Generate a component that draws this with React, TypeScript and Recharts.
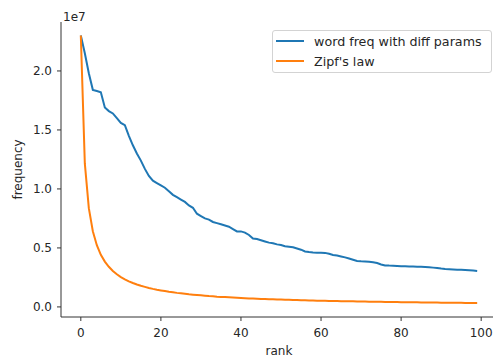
import { LineChart, Line, XAxis, YAxis, Legend, Label } from "recharts";

// rank on the x axis
const ranks = [
  0, 1, 2, 3, 4, 5, 6, 7, 8, 9, 10, 11, 12, 13, 14, 15, 16, 17, 18, 19,
  20, 21, 22, 23, 24, 25, 26, 27, 28, 29, 30, 31, 32, 33, 34, 35, 36, 37, 38, 39,
  40, 41, 42, 43, 44, 45, 46, 47, 48, 49, 50, 51, 52, 53, 54, 55, 56, 57, 58, 59,
  60, 61, 62, 63, 64, 65, 66, 67, 68, 69, 70, 71, 72, 73, 74, 75, 76, 77, 78, 79,
  80, 81, 82, 83, 84, 85, 86, 87, 88, 89, 90, 91, 92, 93, 94, 95, 96, 97, 98, 99,
];

// frequencies in units of 1e7
const wordFreq = [
  2.3, 2.15, 1.98, 1.84, 1.83, 1.82, 1.69, 1.66, 1.64, 1.6,
  1.56, 1.54, 1.45, 1.37, 1.3, 1.24, 1.17, 1.11, 1.07, 1.05,
  1.03, 1.01, 0.98, 0.95, 0.93, 0.91, 0.89, 0.86, 0.84, 0.79,
  0.77, 0.75, 0.74, 0.72, 0.71, 0.7, 0.69, 0.68, 0.66, 0.64,
  0.64, 0.63, 0.61, 0.58, 0.575, 0.565, 0.555, 0.545, 0.54, 0.53,
  0.525, 0.515, 0.51, 0.505, 0.495, 0.485, 0.47, 0.465, 0.462, 0.46,
  0.46, 0.458, 0.45, 0.44, 0.435, 0.428, 0.42, 0.41, 0.4, 0.39,
  0.387, 0.385, 0.382, 0.378, 0.372, 0.36, 0.352, 0.35, 0.349, 0.347,
  0.345, 0.344, 0.343, 0.342, 0.341, 0.34, 0.338, 0.336, 0.333, 0.33,
  0.325, 0.322, 0.32, 0.318, 0.316, 0.314, 0.312, 0.31, 0.308, 0.305,
];

const zipfLaw = [
  2.3, 1.216, 0.837, 0.642, 0.523, 0.442, 0.384, 0.34, 0.305, 0.277,
  0.253, 0.234, 0.217, 0.203, 0.19, 0.179, 0.17, 0.161, 0.153, 0.146,
  0.14, 0.134, 0.128, 0.124, 0.119, 0.115, 0.111, 0.107, 0.104, 0.101,
  0.098, 0.095, 0.092, 0.09, 0.087, 0.085, 0.083, 0.081, 0.079, 0.077,
  0.0755, 0.0738, 0.0723, 0.0707, 0.0693, 0.0679, 0.0666, 0.0653, 0.0641, 0.0629,
  0.0618, 0.0608, 0.0598, 0.0588, 0.0579, 0.057, 0.0562, 0.0554, 0.054, 0.0532,
  0.0525, 0.0517, 0.051, 0.0503, 0.0496, 0.049, 0.0484, 0.0478, 0.047, 0.0462,
  0.0456, 0.045, 0.0445, 0.0439, 0.0434, 0.0429, 0.0424, 0.0419, 0.0414, 0.0408,
  0.0404, 0.0399, 0.0395, 0.039, 0.0386, 0.0382, 0.0378, 0.0374, 0.037, 0.0366,
  0.0362, 0.0359, 0.0355, 0.0352, 0.0348, 0.0345, 0.0342, 0.0339, 0.0335, 0.0332,
];

const seriesNames = ["word freq with diff params", "Zipf's law"];
const xTicks = [0, 20, 40, 60, 80, 100];
const yTicks = [0, 0.5, 1, 1.5, 2];

const data = ranks.map((r, i) => ({ rank: r, word: wordFreq[i], zipf: zipfLaw[i] }));

const FONT = "DejaVu Sans, sans-serif";
const TEXT = "#262626";

function LegendBox({ payload }: any) {
  // keep the plotting order, not alphabetical
  const items = [...(payload || [])].sort(
    (a: any, b: any) => seriesNames.indexOf(a.value) - seriesNames.indexOf(b.value)
  );
  return (
    <div
      style={{
        width: 218,
        boxSizing: "content-box",
        border: "1px solid #d3d3d3",
        borderRadius: 3,
        background: "rgba(255,255,255,0.85)",
        padding: "0 0 1px 0",
        fontFamily: FONT,
        fontSize: 12.7,
        color: TEXT,
      }}
    >
      {items.map((p: any) => (
        <div key={p.value} style={{ display: "flex", alignItems: "center", height: 20, paddingLeft: 3 }}>
          <span style={{ display: "inline-block", width: 28, height: 2, background: p.color, marginRight: 10 }} />
          <span style={{ whiteSpace: "nowrap" }}>{p.value}</span>
        </div>
      ))}
    </div>
  );
}

export default function App() {
  return (
    <div style={{ position: "absolute", left: 0, top: 0, width: 493, height: 360, overflow: "hidden", background: "#fff" }}>
      <div style={{ position: "absolute", left: 63, top: 11, fontFamily: FONT, fontSize: 12, lineHeight: "12px", color: TEXT }}>
        1e7
      </div>
      <LineChart width={500} height={360} data={data} margin={{ top: 22, right: 3, left: 0, bottom: 18 }}>
        <XAxis
          dataKey="rank"
          type="number"
          domain={[-4.95, 103.95]}
          ticks={xTicks}
          allowDataOverflow
          height={25}
          tickSize={4}
          tickMargin={7}
          axisLine={{ stroke: "#333", strokeWidth: 1 }}
          tickLine={{ stroke: "#333" }}
          tick={{ fill: TEXT, fontSize: 12, fontFamily: FONT }}
        >
          <Label value="rank" position="center" dy={21} fill={TEXT} fontSize={12} fontFamily={FONT} />
        </XAxis>
        <XAxis
          xAxisId="top"
          orientation="top"
          dataKey="rank"
          type="number"
          domain={[-4.95, 103.95]}
          allowDataOverflow
          height={0}
          tick={false}
          tickLine={false}
          axisLine={{ stroke: "#333", strokeWidth: 1 }}
        />
        <YAxis
          type="number"
          domain={[-0.0855, 2.415]}
          ticks={yTicks}
          allowDataOverflow
          width={61}
          tickSize={4}
          tickMargin={5}
          tickFormatter={(v: number) => v.toFixed(1)}
          axisLine={{ stroke: "#333", strokeWidth: 1 }}
          tickLine={{ stroke: "#333" }}
          tick={{ fill: TEXT, fontSize: 12, fontFamily: FONT }}
        >
          <Label value="frequency" angle={-90} position="center" dx={-13} fill={TEXT} fontSize={12} fontFamily={FONT} />
        </YAxis>
        <Legend
          layout="vertical"
          align="center"
          verticalAlign="middle"
          content={<LegendBox />}
          wrapperStyle={{ position: "absolute", left: 272, top: 30, width: "auto" }}
        />
        <Line
          name={seriesNames[0]}
          dataKey="word"
          stroke="#1f77b4"
          strokeWidth={2}
          dot={false}
          isAnimationActive={false}
        />
        <Line
          name={seriesNames[1]}
          dataKey="zipf"
          stroke="#ff7f0e"
          strokeWidth={2}
          dot={false}
          isAnimationActive={false}
        />
      </LineChart>
    </div>
  );
}
